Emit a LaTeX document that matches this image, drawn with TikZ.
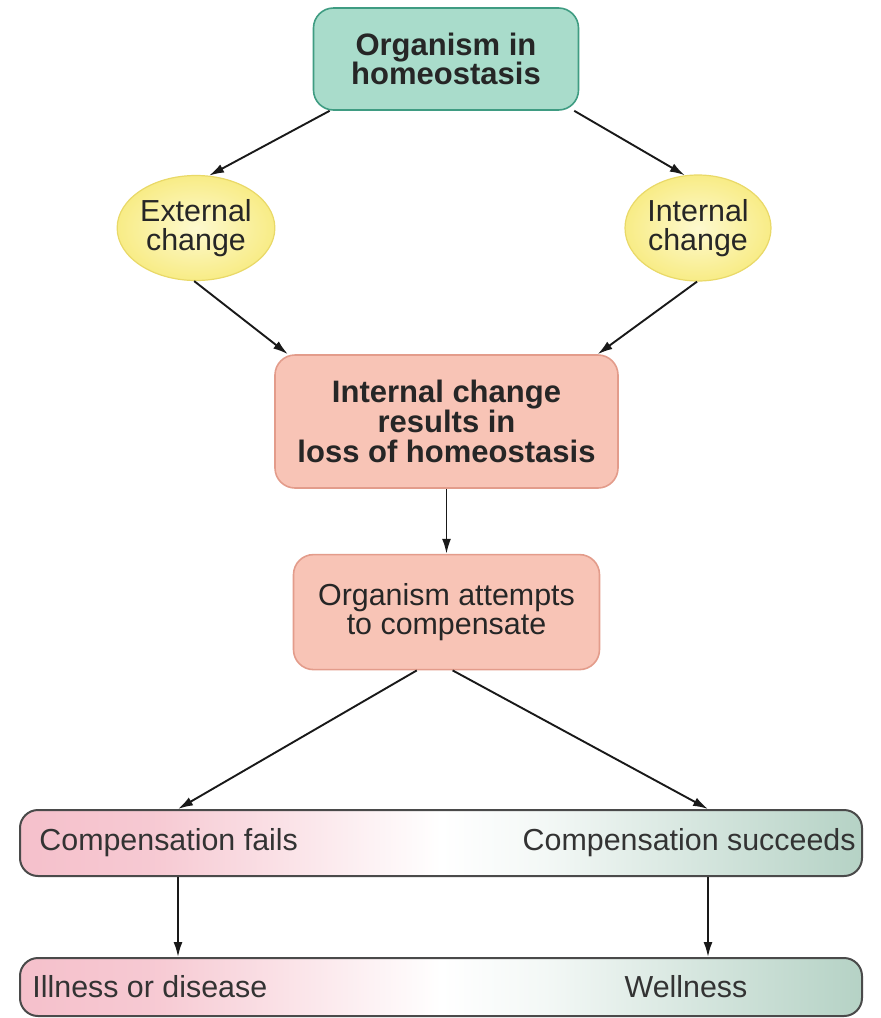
\documentclass[tikz,border=0pt]{standalone}
\usepackage{fontspec}
\setmainfont{Liberation Sans}
\usepackage{tikz}
\usepackage{xcolor}
\usetikzlibrary{positioning, arrows.meta, calc, shapes.geometric}

\definecolor{tealfill}{HTML}{A9DCCB}
\definecolor{tealline}{HTML}{3F9C82}
\definecolor{ylwin}{HTML}{FDF9CF}
\definecolor{ylwout}{HTML}{F8EC86}
\definecolor{ylwline}{HTML}{E9D968}
\definecolor{salfill}{HTML}{F8C4B6}
\definecolor{salline}{HTML}{E39C8B}
\definecolor{barpink}{HTML}{F5C0CB}
\definecolor{bargreen}{HTML}{B5D2C5}
\definecolor{barline}{HTML}{4A4A4A}
\definecolor{inktext}{HTML}{262626}

\pgfdeclarehorizontalshading{barshade}{100bp}{%
  color(0bp)=(barpink); color(25bp)=(barpink); color(33bp)=(barpink!85);
  color(50bp)=(white); color(56bp)=(white!85!bargreen);
  color(75bp)=(bargreen); color(100bp)=(bargreen)}

\begin{document}
\begin{tikzpicture}[
  x=1pt, y=1pt,
  font={\fontsize{15.2pt}{14.8pt}\selectfont},
  text=inktext,
  >={Latex[length=7.5pt,width=4.5pt]},
  arrow/.style={->, draw=black!90, line width=0.95pt},
  box/.style={
    draw, line width=0.8pt, rounded corners=10pt,
    align=center, inner sep=2pt
  },
  headbox/.style={box, fill=tealfill, draw=tealline, font={\fontsize{15.5pt}{14.8pt}\selectfont\bfseries}},
  lossbox/.style={box, fill=salfill, draw=salline},
  change/.style={ellipse, draw=ylwline, line width=0.6pt, inner color=ylwin,
    outer color=ylwout, align=center, inner sep=0pt},
  bar/.style={draw=barline, line width=1pt, rounded corners=9pt,
    shading=barshade, minimum width=421pt},
  bartext/.style={inner sep=0pt, text=black!80},
]
\useasboundingbox (0,0) rectangle (440.5,-509);

% top of the chain
\node[headbox, minimum width=132.5pt, minimum height=51pt] (organism)
  at (223,-29.5) {Organism in\\homeostasis};

\node[change, minimum width=62pt, minimum height=52.5pt] (ext)
  at (98,-114) {External\\change};
\node[change, minimum width=73pt, minimum height=53pt] (int)
  at (349,-114) {Internal\\change};

\node[lossbox, font={\fontsize{15.5pt}{14.8pt}\selectfont\bfseries},
      minimum width=171.5pt, minimum height=66.5pt] (loss)
  at (223.25,-210.75) {Internal change\\results in\\loss of homeostasis};
\node[lossbox, below=32.5pt of loss, minimum width=153pt,
      minimum height=57.5pt] (attempt)
  {Organism attempts\\to compensate};

% outcome bars
\node[bar, minimum height=33pt] (compbar) at (220.5,-421.5) {};
\node[bartext, anchor=west] (fails) at ([xshift=10pt]compbar.west)
  {Compensation fails};
\node[bartext, anchor=east] (succeeds) at ([xshift=-3.5pt]compbar.east)
  {Compensation succeeds};

\node[bar, minimum height=29pt] (endbar) at (220.5,-493.5) {};
\node[bartext, anchor=west] (illness) at ([xshift=6.5pt]endbar.west)
  {Illness or disease};
\node[bartext] (wellness) at (343,-493.5) {Wellness};

\coordinate (lcol) at (89,0);
\coordinate (rcol) at (354,0);

\draw[arrow] (organism.204) -- (ext.76);
\draw[arrow] (organism.-22) -- (int.104);
\draw[arrow] (ext.-92) -- (loss.157);
\draw[arrow] (int.-91) -- (loss.24);
\draw[arrow] (loss.south) -- (attempt.north);
\draw[arrow] (attempt.243) -- (lcol |- compbar.north);
\draw[arrow] (attempt.-84) -- (rcol |- compbar.north);
\draw[arrow] (lcol |- compbar.south) -- (lcol |- endbar.north);
\draw[arrow] (rcol |- compbar.south) -- (rcol |- endbar.north);

\end{tikzpicture}
\end{document}
